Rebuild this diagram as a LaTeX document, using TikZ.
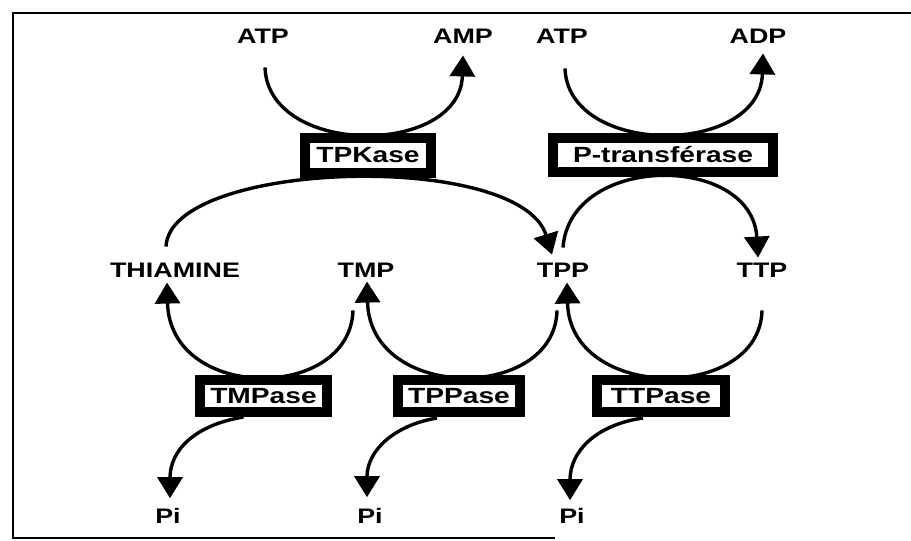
\documentclass[tikz,border=0pt]{standalone}
\usepackage{fontspec}
\newfontfamily\lab[FakeStretch=1.28]{Liberation Sans}
\usetikzlibrary{arrows.meta,calc}
\begin{document}
\begin{tikzpicture}[x=1pt,y=-1pt,
  cmp/.style={font=\lab\bfseries\fontsize{21}{24}\selectfont, inner sep=0pt},
  enz/.style={font=\lab\bfseries\fontsize{22}{24}\selectfont, draw=black, fill=white, line width=10pt, inner sep=0pt},
  flow/.style={line width=3.4pt, -{Triangle[length=21pt,width=25pt]}}]
\useasboundingbox (0,0) rectangle (911,541);
\draw[line width=2.4pt] (911,13) -- (13,13) -- (13,538) -- (555,538);
% compounds
\node[cmp] (atp1) at (263,36) {ATP};
\node[cmp] (amp) at (463,36) {AMP};
\node[cmp] (atp2) at (562,36) {ATP};
\node[cmp] (adp) at (758,36) {ADP};
\node[cmp] (thia) at (175,270) {THIAMINE};
\node[cmp] (tmp) at (366,270) {TMP};
\node[cmp] (tpp) at (563,270) {TPP};
\node[cmp] (ttp) at (762,270) {TTP};
\node[cmp] (pi1) at (168,516) {Pi};
\node[cmp] (pi2) at (370,516) {Pi};
\node[cmp] (pi3) at (572,516) {Pi};
% arcs (drawn first, boxes go on top)
\coordinate (tpkc) at (368,155.5);
\coordinate (ptrc) at (663,155);
\coordinate (tmpc) at (263.5,396);
\coordinate (tppc) at (459,396);
\coordinate (ttpc) at (661,396);
% top arcs
\draw[flow] ($(atp1.south)+(2,24)$) .. controls (268,157) and (460,157) .. ($(amp.south)+(0,12)$);
\draw[flow] ($(atp2.south)+(3,25)$) .. controls (568,157) and (760,157) .. ($(adp.south)+(5,10)$);
% middle arcs
\draw[flow] ($(thia.north)+(-9,-16)$) .. controls (170,160) and (520,150) .. ($(tpp.north)+(-11,-8)$);
\draw[flow] ($(tpp.north)+(0,-15)$) .. controls (570,153) and (752,153) .. ($(ttp.north)+(-4,-5)$);
% lower arcs
\draw[flow] ($(tmp.south)+(-13,33)$) .. controls (350,402) and (170,402) .. ($(thia.north)+(-8,20)$);
\draw[flow] ($(tpp.south)+(-6,33)$) .. controls (555,402) and (370,402) .. ($(tmp.north)+(1,19)$);
\draw[flow] ($(ttp.south)+(0,33)$) .. controls (760,402) and (570,402) .. ($(tpp.north)+(4,20)$);
% enzymes
\node[enz, minimum width=126pt, minimum height=35pt] (tpk) at (tpkc) {TPKase};
\node[enz, minimum width=220pt, minimum height=34pt] (ptr) at (ptrc) {P-transférase};
\node[enz, minimum width=127pt, minimum height=32pt] (tmpase) at (tmpc) {TMPase};
\node[enz, minimum width=122pt, minimum height=32pt] (tppase) at (tppc) {TPPase};
\node[enz, minimum width=128pt, minimum height=32pt] (ttpase) at (ttpc) {TTPase};
% Pi arrows
\draw[flow] ($(tmpase.south)+(-20,0)$) .. controls (195,425) and (170,450) .. ($(pi1.north)+(2,-10)$);
\draw[flow] ($(tppase.south)+(-22,1)$) .. controls (395,425) and (367,450) .. ($(pi2.north)+(-3,-11)$);
\draw[flow] ($(ttpase.south)+(-18,1)$) .. controls (595,425) and (570,452) .. ($(pi3.north)+(-2,-8)$);
\end{tikzpicture}
\end{document}
